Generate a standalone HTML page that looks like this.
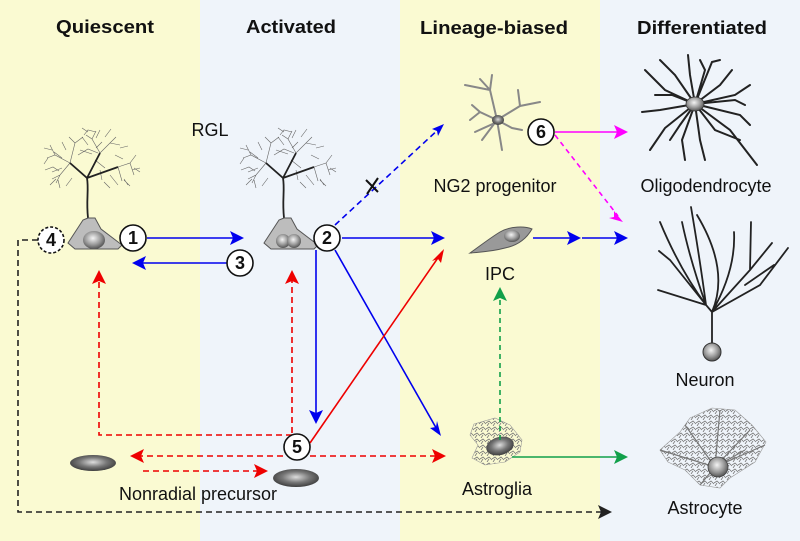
<!DOCTYPE html>
<html><head><meta charset="utf-8"><style>
html,body{margin:0;padding:0;background:#fff}
svg{display:block}
text{font-family:"Liberation Sans",Arial,sans-serif;fill:#111}
</style></head><body>
<svg width="800" height="541" viewBox="0 0 800 541" xmlns="http://www.w3.org/2000/svg">
<defs>
<radialGradient id="sg" cx="0.45" cy="0.4" r="0.6"><stop offset="0" stop-color="#f4f4f4"/><stop offset="0.6" stop-color="#9a9a9a"/><stop offset="1" stop-color="#555"/></radialGradient>
<radialGradient id="dg" cx="0.5" cy="0.45" r="0.6"><stop offset="0" stop-color="#ddd"/><stop offset="0.5" stop-color="#777"/><stop offset="1" stop-color="#333"/></radialGradient>
<pattern id="moss" width="6" height="6" patternUnits="userSpaceOnUse"><path d="M0,3 l3,-2 l3,3 M1,6 l2,-3" stroke="#777" stroke-width="0.8" fill="none"/></pattern>
</defs>
<rect x="0" y="0" width="200" height="541" fill="#fafad2"/>
<rect x="200" y="0" width="200" height="541" fill="#eff4fa"/>
<rect x="400" y="0" width="200" height="541" fill="#fafad2"/>
<rect x="600" y="0" width="200" height="541" fill="#eff4fa"/>

<g font-weight="bold" font-size="18" text-anchor="middle">
<text x="105" y="33" textLength="98" lengthAdjust="spacingAndGlyphs">Quiescent</text>
<text x="291" y="33" textLength="90" lengthAdjust="spacingAndGlyphs">Activated</text>
<text x="494" y="34" textLength="148" lengthAdjust="spacingAndGlyphs">Lineage-biased</text>
<text x="702" y="34" textLength="130" lengthAdjust="spacingAndGlyphs">Differentiated</text>
</g>
<g font-size="18" text-anchor="middle">
<text x="210" y="136">RGL</text>
<text x="495" y="192">NG2 progenitor</text>
<text x="706" y="192">Oligodendrocyte</text>
<text x="500" y="280">IPC</text>
<text x="705" y="386">Neuron</text>
<text x="497" y="495">Astroglia</text>
<text x="705" y="514">Astrocyte</text>
<text x="198" y="500">Nonradial precursor</text>
</g>

<!-- RGL trees -->
<g id="tree" stroke="#666" stroke-width="0.6" fill="none">
<path d="M70,163 l-15,-8 l-8,3 M55,155 l-5,-10 M70,163 l-10,12 l-8,4 M60,175 l-4,8 M100,153 l-8,-14 l-6,-4 M92,139 l4,-8 M100,153 l10,-10 l6,-6 M110,143 l10,2 M118,167 l12,-4 l6,-8 M130,163 l4,12 M118,167 l4,14 M70,163 l5,-20 l-6,-6 M75,143 l8,-6 M80,150 l12,4 M95,160 l10,8 M62,168 l-10,4 M48,158 l-4,6 M52,150 l-8,-2 M84,135 l4,-5 l8,2 M105,137 l6,-8 M120,148 l8,-2 M132,170 l8,-2 M124,180 l6,6 M66,150 l-4,-8 M58,180 l2,8 M100,170 l2,10 M78,155 l10,-6 l10,4 M45,170 l8,-3 l6,4 M50,185 l6,-6 M110,175 l8,10 M128,185 l-4,-6 M88,145 l-6,-8 M96,148 l6,-6 M115,155 l8,4 M62,158 l-8,-6 M72,178 l-6,8 M104,182 l6,6 M140,172 l-6,-4 M82,128 l6,4 M100,130 l-4,8"/>
<path d="M88,218 C86,200 89,190 87,178 L70,163 M87,178 L100,153 M87,178 L118,167" stroke="#222" stroke-width="1.8"/>
<path d="M88,218 L83,220 L68,243 L75,249 L118,249 L122,245 L101,229 L95,218z" fill="#bdbdbd" stroke="#555" stroke-width="1"/>
</g>
<ellipse cx="94" cy="240" rx="11" ry="9" fill="url(#sg)"/>
<use href="#tree" x="196" y="0"/>
<ellipse cx="283" cy="241" rx="7" ry="7" fill="url(#sg)"/>
<ellipse cx="294" cy="241" rx="7" ry="7" fill="url(#sg)"/>

<!-- NG2 -->
<g stroke="#888" stroke-width="2" fill="none" stroke-linecap="round">
<path d="M497,120 L490,90 L492,75 M490,90 L465,85 M490,90 L480,79 M497,120 L520,106 L540,102 M520,106 L518,90 M497,120 L480,112 L472,105 M480,112 L470,120 M497,120 L482,140 M497,120 L502,150 M497,120 L512,128 L522,130 M497,122 L475,132"/>
</g>
<ellipse cx="498" cy="120" rx="6" ry="5" fill="url(#dg)"/>

<!-- Oligodendrocyte -->
<g stroke="#222" stroke-width="2" fill="none" stroke-linecap="round">
<path d="M695,104 L665,90 L645,70 M695,104 L675,75 L660,60 M695,104 L690,75 L688,55 M695,104 L705,70 L700,60 M695,104 L720,85 L732,70 M695,104 L735,95 L750,85 M695,104 L740,115 L750,125 M695,104 L730,130 L757,165 M695,104 L700,140 L705,160 M695,104 L682,140 L685,160 M695,104 L665,128 L650,150 M695,104 L660,110 L642,112 M695,104 L715,130 L740,140 M695,104 L672,95 L655,95 M695,104 L712,62 L720,60 M695,104 L680,125 L670,140 M695,104 L735,100 L745,105"/>
</g>
<ellipse cx="695" cy="104" rx="9" ry="7" fill="url(#sg)" stroke="#333" stroke-width="0.8"/>

<!-- IPC -->
<path d="M470,253 C480,246 490,238 500,232 C510,226 525,226 532,229 C528,236 520,245 505,248 C490,252 480,252 470,253z" fill="#999" stroke="#555" stroke-width="1"/>
<ellipse cx="512" cy="236" rx="8" ry="6" fill="url(#sg)"/>

<!-- Neuron -->
<g stroke="#222" stroke-width="1.8" fill="none" stroke-linecap="round">
<path d="M712,344 L712,312 L706,305 Q680,270 660,222 M706,305 L658,290 M706,305 L670,260 L659,251 M706,305 Q690,260 682,222 M706,305 Q700,260 691,207 M712,312 Q730,270 697,215 M712,312 Q736,270 734,232 M712,312 L760,285 L788,248 M712,312 L750,270 L772,243 M750,270 L751,222 M745,285 L774,265"/>
</g>
<circle cx="712" cy="352" r="9" fill="url(#sg)" stroke="#333"/>

<!-- Astroglia -->
<path d="M474,424 L495,418 L510,425 L522,440 L520,452 L505,462 L485,465 L472,458 L478,445 L470,435z" fill="url(#moss)" stroke="#999" stroke-width="0.6"/>
<ellipse cx="500" cy="446" rx="14" ry="9" fill="url(#dg)" transform="rotate(-15 500 446)"/>

<!-- Astrocyte -->
<path d="M660,450 L680,432 L690,418 L712,408 L735,410 L752,425 L766,442 L755,462 L730,478 L720,488 L700,485 L685,470 L668,462z" fill="url(#moss)" stroke="#999" stroke-width="0.6"/>
<g stroke="#777" stroke-width="1.2" fill="none">
<path d="M715,467 L660,450 M715,467 L685,425 M715,467 L720,410 M715,467 L750,430 M715,467 L765,445 M715,467 L700,485 M715,467 L745,450"/>
</g>
<circle cx="718" cy="467" r="10" fill="url(#sg)" stroke="#444" stroke-width="0.8"/>

<!-- Nonradial precursors -->
<ellipse cx="93" cy="463" rx="23" ry="8" fill="url(#dg)"/>
<ellipse cx="296" cy="478" rx="23" ry="9" fill="url(#dg)"/>

<!-- arrows -->
<g fill="none" stroke-width="1.6">
<path d="M147,238 H240" stroke="#0000ee"/>
<path d="M227,263 H136" stroke="#0000ee"/>
<path d="M342,238 H440" stroke="#0000ee"/>
<path d="M316,250 V420" stroke="#0000ee"/>
<path d="M335,250 L439,433" stroke="#0000ee"/>
<path d="M335,225 L441,127" stroke="#0000ee" stroke-dasharray="6 4"/>
<path d="M533,238 H577" stroke="#0000ee"/>
<path d="M582,238 H624" stroke="#0000ee"/>
</g>
<path d="M366,180 L378,192 M378,178 L367,194" stroke="#111" stroke-width="2"/>

<g fill="none" stroke-width="1.6">
<path d="M310,443 L442,252" stroke="#ee0000"/>
<path d="M292,433 V275 M292,435 H99 V275 M283,456 H133 M310,456 H441 M143,471 H264" stroke="#ee0000" stroke-dasharray="6 4"/>
<path d="M555,132 H624" stroke="#ff00ff"/>
<path d="M555,135 L618,216" stroke="#ff00ff" stroke-dasharray="5 4"/>
<path d="M500,440 V292" stroke="#11a04a" stroke-dasharray="5 4"/>
<path d="M512,457 H624" stroke="#11a04a"/>
<path d="M38,240 H18 V512 H605" stroke="#222" stroke-dasharray="6 4"/>
</g>
<!-- arrowheads -->
<g>
<path d="M244,238 l-14,-7 l3,7 l-3,7z" fill="#0000ee"/>
<path d="M132,263 l14,-7 l-3,7 l3,7z" fill="#0000ee"/>
<path d="M445,238 l-14,-7 l3,7 l-3,7z" fill="#0000ee"/>
<path d="M316,424 l-7,-14 l7,3 l7,-3z" fill="#0000ee"/>
<path d="M441,436 l-11,-8 l6,-1 l1,-6z" fill="#0000ee"/>
<path d="M444,124 l-12,5 l5,2 l1,5z" fill="#0000ee"/>
<path d="M581,238 l-14,-7 l3,7 l-3,7z" fill="#0000ee"/>
<path d="M628,238 l-14,-7 l3,7 l-3,7z" fill="#0000ee"/>
<path d="M444,249 l-3,14 l-3,-4 l-6,2z" fill="#ee0000"/>
<path d="M292,270 l-7,14 l7,-3 l7,3z" fill="#ee0000"/>
<path d="M99,270 l-7,14 l7,-3 l7,3z" fill="#ee0000"/>
<path d="M130,456 l14,-7 l-3,7 l3,7z" fill="#ee0000"/>
<path d="M446,456 l-14,-7 l3,7 l-3,7z" fill="#ee0000"/>
<path d="M268,471 l-14,-7 l3,7 l-3,7z" fill="#ee0000"/>
<path d="M628,132 l-14,-7 l3,7 l-3,7z" fill="#ff00ff"/>
<path d="M623,222 l-14,-4 l5,-1 l0,-6z" fill="#ff00ff"/>
<path d="M500,287 l-7,14 l7,-3 l7,3z" fill="#11a04a"/>
<path d="M628,457 l-14,-7 l3,7 l-3,7z" fill="#11a04a"/>
<path d="M612,512 l-14,-7 l3,7 l-3,7z" fill="#222"/>
</g>

<!-- numbered circles -->
<g fill="#fff" stroke="#111" stroke-width="1.6">
<circle cx="51" cy="240" r="13" stroke-dasharray="3 2"/>
<circle cx="133" cy="238" r="13"/>
<circle cx="240" cy="263" r="13"/>
<circle cx="327" cy="238" r="13"/>
<circle cx="297" cy="447" r="13"/>
<circle cx="541" cy="132" r="13"/>
</g>
<g font-weight="bold" font-size="18" text-anchor="middle">
<text x="51" y="246">4</text><text x="133" y="244">1</text><text x="240" y="269">3</text>
<text x="327" y="244">2</text><text x="297" y="453">5</text><text x="541" y="138">6</text>
</g>
</svg>
</body></html>
